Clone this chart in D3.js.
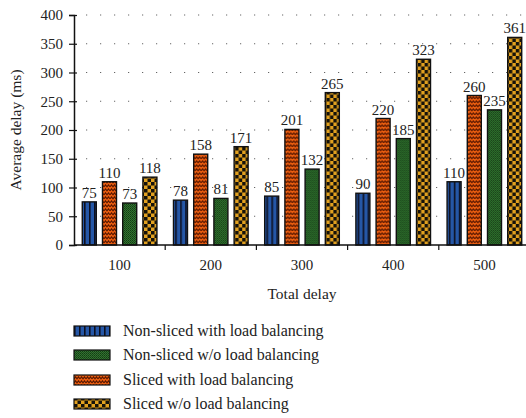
<!DOCTYPE html>
<html><head><meta charset="utf-8">
<script src="https://cdn.jsdelivr.net/npm/d3@7/dist/d3.min.js"></script>
<style>body{margin:0;background:#fff}svg{display:block;font-family:"Liberation Serif","Times New Roman",serif}</style>
</head><body>
<svg id="c" width="526" height="418"></svg>
<script>
const categories = ["100","200","300","400","500"];
const seriesNames = ["Non-sliced with load balancing","Sliced with load balancing","Non-sliced w/o load balancing","Sliced w/o load balancing"];
const nonSlicedLB = [75,78,85,90,110];
const slicedLB = [110,158,201,220,260];
const nonSlicedNoLB = [73,81,132,185,235];
const slicedNoLB = [118,171,265,323,361];
const yTicks = [0,50,100,150,200,250,300,350,400];
const legendOrder = [0,2,1,3];

const seriesValues = [nonSlicedLB, slicedLB, nonSlicedNoLB, slicedNoLB];
const patternIds = ["pBlue","pOrange","pGreen","pYellow"];

const svg = d3.select("#c");
const defs = svg.append("defs");
// blue vertical stripes
let p = defs.append("pattern").attr("id","pBlue").attr("patternUnits","userSpaceOnUse").attr("width",5).attr("height",5);
p.append("rect").attr("width",5).attr("height",5).attr("fill","#2557a7");
p.append("rect").attr("width",1.6).attr("height",5).attr("fill","#0d1020");
// orange zigzag
p = defs.append("pattern").attr("id","pOrange").attr("patternUnits","userSpaceOnUse").attr("width",6).attr("height",4);
p.append("rect").attr("width",6).attr("height",4).attr("fill","#ee5f10");
p.append("path").attr("d","M0,2.8 L1.5,0.8 L3,2.8 L4.5,0.8 L6,2.8").attr("fill","none").attr("stroke","#5a1800").attr("stroke-width",1.1);
// green fine checker
p = defs.append("pattern").attr("id","pGreen").attr("patternUnits","userSpaceOnUse").attr("width",2).attr("height",2);
p.append("rect").attr("width",2).attr("height",2).attr("fill","#317530");
p.append("rect").attr("width",1).attr("height",1).attr("fill","#153a15");
p.append("rect").attr("x",1).attr("y",1).attr("width",1).attr("height",1).attr("fill","#1c4a1b");
// yellow checker
p = defs.append("pattern").attr("id","pYellow").attr("patternUnits","userSpaceOnUse").attr("width",7).attr("height",7);
p.append("rect").attr("width",7).attr("height",7).attr("fill","#e2a11f");
p.append("rect").attr("width",3.5).attr("height",3.5).attr("fill","#15120a");
p.append("rect").attr("x",3.5).attr("y",3.5).attr("width",3.5).attr("height",3.5).attr("fill","#15120a");

const x0 = 74, x1 = 530, yTop = 15, yBot = 245;
const x = d3.scaleBand().domain(categories).range([x0,x1]).paddingInner(0).paddingOuter(0);
const xs = d3.scaleBand().domain(d3.range(4)).range([0,x.bandwidth()]).paddingInner(0.307).paddingOuter(0.41);
const y = d3.scaleLinear().domain([0,400]).range([yBot,yTop]);

// grid
svg.append("g").selectAll("line").data(yTicks.filter(t=>t>0)).join("line")
  .attr("x1",x0+12).attr("x2",526).attr("y1",d=>y(d)).attr("y2",d=>y(d))
  .attr("stroke","#666").attr("stroke-width",1.2).attr("stroke-dasharray","1.2,12.8");

// bars
const groups = svg.append("g").selectAll("g").data(categories).join("g")
  .attr("transform",c=>`translate(${x(c)},0)`);
groups.each(function(c,ci){
  const g = d3.select(this);
  seriesValues.forEach((vals,si)=>{
    const v = vals[ci];
    g.append("rect").attr("x",xs(si)).attr("y",y(v)).attr("width",xs.bandwidth()).attr("height",yBot-y(v))
      .attr("fill",`url(#${patternIds[si]})`).attr("stroke","#111").attr("stroke-width",1.4);
    g.append("text").attr("x",xs(si)+xs.bandwidth()/2).attr("y",y(v)-4).attr("text-anchor","middle")
      .attr("font-size",15).attr("fill","#222").text(v);
  });
});

// y axis
const yAxis = d3.axisLeft(y).tickValues(yTicks).tickSize(5).tickPadding(6);
const ya = svg.append("g").attr("transform",`translate(${x0},0)`).call(yAxis);
ya.select(".domain").attr("stroke","#111").attr("stroke-width",1.5);
ya.selectAll(".tick line").attr("stroke","#111").attr("x2",-5).attr("x1",3).attr("stroke-width",1.2);
ya.selectAll("text").attr("font-size",15).attr("font-family","Liberation Serif").attr("fill","#222");

// x axis
const xa = svg.append("g");
xa.append("line").attr("x1",x0).attr("x2",x1).attr("y1",yBot).attr("y2",yBot).attr("stroke","#111").attr("stroke-width",1.5);
xa.selectAll("line.t").data(categories.slice(1)).join("line").attr("class","t")
  .attr("x1",c=>x(c)).attr("x2",c=>x(c)).attr("y1",yBot).attr("y2",yBot+5).attr("stroke","#111").attr("stroke-width",1.2);
xa.selectAll("text").data(categories).join("text")
  .attr("x",c=>x(c)+x.bandwidth()/2).attr("y",270).attr("text-anchor","middle").attr("font-size",15).attr("fill","#222").text(c=>c);

svg.append("text").attr("x",(x0+x1)/2).attr("y",299).attr("text-anchor","middle").attr("font-size",15.5).attr("fill","#222").text("Total delay");
svg.append("text").attr("transform",`translate(21,${(yTop+yBot)/2}) rotate(-90)`).attr("text-anchor","middle").attr("font-size",15.5).attr("fill","#222").text("Average delay (ms)");

// legend
const legRows = [331,355,380,404];
const lg = svg.append("g").selectAll("g").data(legendOrder).join("g")
  .attr("transform",(d,i)=>`translate(74,${legRows[i]})`);
lg.append("rect").attr("x",0).attr("y",-5).attr("width",36).attr("height",10)
  .attr("fill",d=>`url(#${patternIds[d]})`).attr("stroke","#111").attr("stroke-width",1.2);
lg.append("text").attr("x",49).attr("y",5).attr("font-size",16).attr("fill","#222").text(d=>seriesNames[d]);
</script>
</body></html>
